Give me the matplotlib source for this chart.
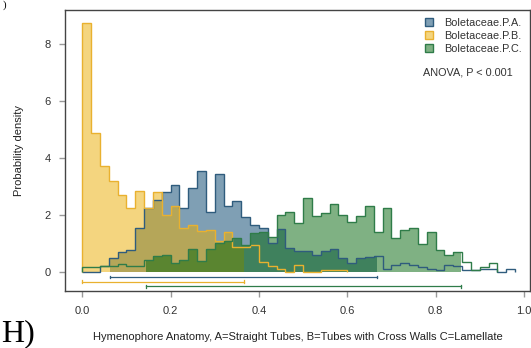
import numpy as np
import matplotlib
matplotlib.use("Agg")
import matplotlib.pyplot as plt
from matplotlib.patches import Patch, Rectangle
from matplotlib.colors import to_rgba

plt.rcParams['font.family'] = ['Liberation Sans', 'DejaVu Sans']

# ---------------- data ----------------
bin_width = 0.02
series_names = ["Boletaceae.P.A.", "Boletaceae.P.B.", "Boletaceae.P.C."]

dens_A = [0.00, 0.00, 0.22, 0.51, 0.70, 0.78, 1.55, 2.24, 2.52, 2.81,
          3.06, 2.24, 2.95, 3.55, 2.10, 3.45, 2.33, 2.51, 1.95, 1.64,
          1.55, 1.02, 1.51, 0.86, 0.76, 0.76, 0.61, 0.76, 0.81, 0.51,
          0.32, 0.51, 0.52, 0.57, 0.11, 0.25, 0.32, 0.26, 0.18, 0.11,
          0.06, 0.26, 0.21, 0.08, 0.06, 0.10, 0.10, 0.00, 0.10]
dens_B = [8.73, 4.87, 3.73, 3.20, 2.70, 2.26, 2.85, 2.26, 2.81, 2.01,
          2.33, 1.56, 1.65, 1.44, 1.48, 1.11, 1.40, 0.87, 0.87, 0.95,
          0.37, 0.21, 0.11, 0.00, 0.26, 0.00, 0.00, 0.06, 0.06, 0.06]
dens_C = [0.18, 0.18, 0.22, 0.23, 0.29, 0.23, 0.20, 0.43, 0.57, 0.59,
          0.34, 0.44, 0.81, 0.39, 0.81, 1.02, 1.10, 1.19, 0.95, 1.37,
          1.40, 1.25, 2.01, 2.10, 1.72, 2.61, 1.96, 2.07, 2.41, 2.00,
          1.76, 1.96, 2.31, 1.41, 2.26, 1.21, 1.47, 1.55, 1.00, 1.40,
          0.77, 0.61, 0.70, 0.35, 0.07, 0.17, 0.32]

# intervals shown below the histograms (low, high)
interval_A = (0.063, 0.668)
interval_B = (0.000, 0.367)
interval_C = (0.145, 0.857)
interval_levels = [-0.17, -0.33, -0.49]

x_ticks = [0.0, 0.2, 0.4, 0.6, 0.8, 1.0]
x_tick_labels = ["0.0", "0.2", "0.4", "0.6", "0.8", "1.0"]
y_ticks = [0, 2, 4, 6, 8]

fill_colors = ["#00406b", "#ebad00", "#006508"]
line_colors = ["#2f5c7d", "#e9b12f", "#2f7c49"]

# ---------------- figure ----------------
W, H = 531, 348
fig = plt.figure(figsize=(W / 100, H / 100), dpi=100)
ax = fig.add_axes([65.3 / W, 1 - 291 / H, (530 - 65.3) / W, (291 - 10.3) / H])
ax.set_xlim(-0.0385, 1.0136)
ax.set_ylim(-0.66, 9.19)

all_dens = [dens_A, dens_B, dens_C]
intervals = [interval_A, interval_B, interval_C]

# fills (clipped to interval)
for dens, (lo, hi), fc in zip(all_dens, intervals, fill_colors):
    edges = np.arange(len(dens) + 1) * bin_width
    st = ax.stairs(dens, edges, baseline=0, fill=True, facecolor=fc,
                   alpha=0.5, linewidth=0, zorder=2)
    clip = Rectangle((lo, -1), hi - lo, 20, transform=ax.transData,
                     facecolor='none', edgecolor='none')
    st.set_clip_path(clip)

# outlines
for dens, lc in zip(all_dens, line_colors):
    edges = np.arange(len(dens) + 1) * bin_width
    ax.stairs(dens, edges, baseline=0, fill=False, color=lc,
              linewidth=1.0, zorder=3)

# intervals
for (lo, hi), lev, lc in zip(intervals, interval_levels, line_colors):
    ax.plot([lo, hi], [lev, lev], color=lc, linewidth=0.9, zorder=3)
    for xv in (lo, hi):
        ax.plot([xv, xv], [lev - 0.05, lev + 0.05], color=lc,
                linewidth=0.9, zorder=3)

# axes styling
for s in ax.spines.values():
    s.set_color('#444444')
    s.set_linewidth(1.0)
ax.set_xticks(x_ticks)
ax.set_xticklabels(x_tick_labels)
ax.set_yticks(y_ticks)
ax.tick_params(axis='both', direction='out', length=4.5, width=1.0,
               color='#999999', labelsize=8, labelcolor='#333333', pad=6)
ax.tick_params(axis='y', pad=6)

ax.set_ylabel("Probability density", fontsize=8, color='#222222', labelpad=15)
ax.set_xlabel("Hymenophore Anatomy, A=Straight Tubes, B=Tubes with Cross Walls C=Lamellate",
              fontsize=8, color='#222222', labelpad=12)

# legend
handles = [Patch(facecolor=to_rgba(fc, 0.5), edgecolor=lc, linewidth=1.0)
           for fc, lc in zip(fill_colors, line_colors)]
leg = fig.legend(handles, series_names, loc='upper left',
                 bbox_to_anchor=(424.5 / W, 1 - 18 / H), frameon=False,
                 fontsize=7.8, handlelength=0.8, handleheight=0.8,
                 handletextpad=1.0, labelspacing=0.28, borderpad=0,
                 borderaxespad=0)
for t in leg.get_texts():
    t.set_color('#333333')

fig.text(422.7 / W, 1 - 72.7 / H, "ANOVA, P < 0.001", fontsize=7.8,
         color='#333333', ha='left', va='center')

# panel letters from neighbouring panels
fig.text(1 / W, 0.0, "H)", fontsize=23, family='Liberation Serif',
         ha='left', va='bottom', color='black')
fig.text(3 / W, 1.0, ")", fontsize=8, family='Liberation Serif',
         ha='left', va='top', color='black')

fig.savefig("out.png", dpi=100)
